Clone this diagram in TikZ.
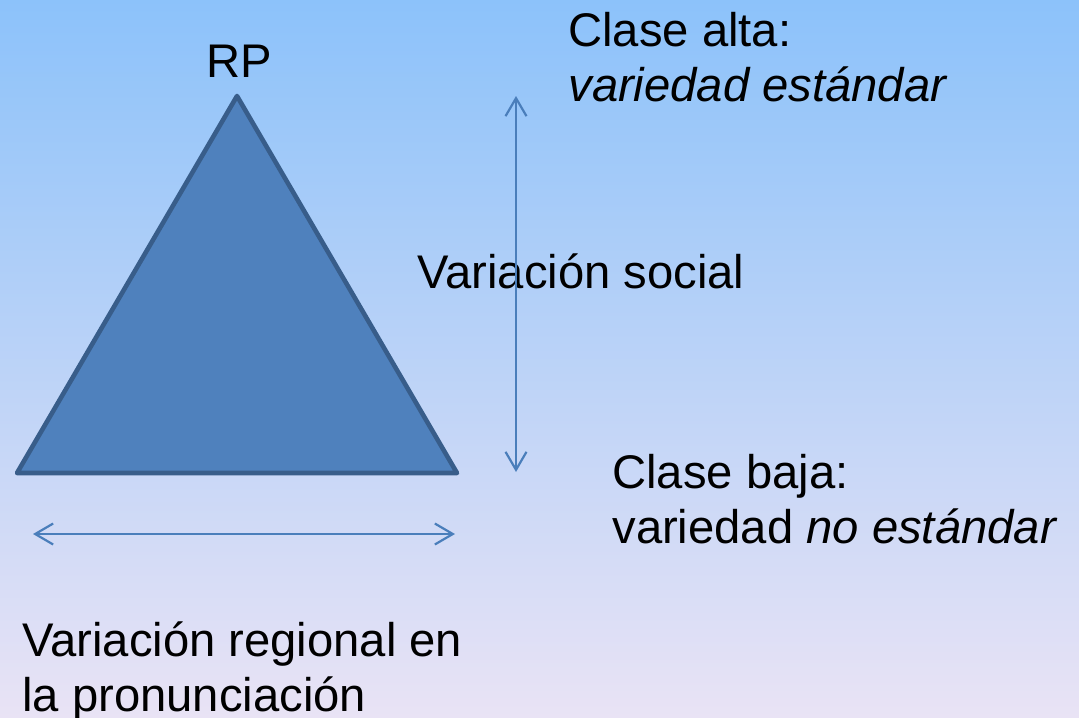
\documentclass[tikz,border=0pt]{standalone}
\usepackage{fontspec}
\setmainfont{Liberation Sans}
\usetikzlibrary{arrows.meta}

\definecolor{bgtop}{HTML}{8CC2FA}
\definecolor{bgmid}{HTML}{C2D6EF}
\definecolor{bgbot}{HTML}{E9E3F5}
\definecolor{trifill}{HTML}{4F81BD}
\definecolor{triline}{HTML}{385D8A}
\definecolor{arrowline}{HTML}{4A7EBB}

\tikzset{
  txt/.style={inner sep=0pt, anchor=base west, align=left,
    font=\fontsize{23.6}{27.5}\selectfont},
  axis/.style={arrowline, line width=1.1pt,
    {Straight Barb[length=9pt,width=10.5pt,line width=1.1pt]}-{Straight Barb[length=9pt,width=10.5pt,line width=1.1pt]}}
}

\begin{document}
\begin{tikzpicture}[x=0.5pt,y=-0.5pt]
  \shade[top color=bgtop, middle color=bgmid, bottom color=bgbot]
    (0,0) rectangle (1079,717);
  \useasboundingbox (0,0) rectangle (1079,717);

  \coordinate (A) at (237,96);
  \coordinate (B) at (17,473);
  \coordinate (C) at (457,473);

  \filldraw[fill=trifill, draw=triline, line width=2.3pt, line join=round]
    (A) -- (B) -- (C) -- cycle;

  % base anchor of a two-line node sits on its last line
  \node[txt] (rp) at (206,77) {RP};
  \node[txt] (alta) at (568,102) {Clase alta:\\\textit{variedad estándar}};
  \node[txt] (social) at (417,288) {Variación social};
  \node[txt] (baja) at (612,543) {Clase baja:\\variedad \textit{no estándar}};
  \node[txt] (regional) at (22,711) {Variación regional en\\la pronunciación};

  \coordinate (top) at (516,96);
  \coordinate (bot) at (516,472);
  \coordinate (left) at (33,534);
  \coordinate (right) at (455,534);

  \draw[axis] (bot) -- (top);
  \draw[axis] (left) -- (right);
\end{tikzpicture}
\end{document}
